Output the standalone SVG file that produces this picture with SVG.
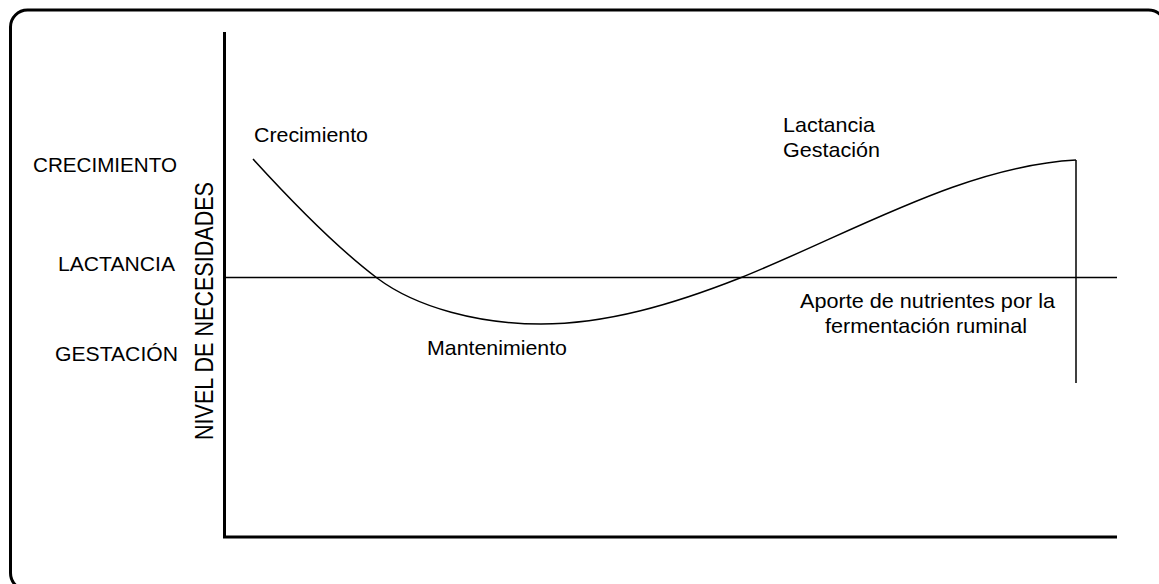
<svg xmlns="http://www.w3.org/2000/svg" width="1159" height="584" viewBox="0 0 1159 584">
<style>
.t{font-family:"Liberation Sans",Arial,sans-serif;font-size:21px;fill:#000}
.thin{fill:none;stroke:#000;stroke-width:1.5}
.thick{fill:none;stroke:#000;stroke-width:3}
</style>
<rect width="1159" height="584" fill="#fff"/>
<g id="frame"><rect class="thick" x="10.5" y="10" width="1155" height="580" rx="17"/></g>
<g id="axes">
<path class="thick" d="M224.5 32 V537 H1117"/>
</g>
<g id="connectors">
<line class="thin" x1="224" y1="277.5" x2="1117" y2="277.5"/>
<line class="thin" x1="1076" y1="160" x2="1076" y2="383"/>
<path class="thin" d="M253 159 C294 204 336 247 377 278 C417 308 480 324 541 324 C607 324 674 304 740 278 C852 233 964 166 1076 160"/>
</g>
<g id="y-labels">
<text class="t" x="33" y="172" textLength="144" lengthAdjust="spacingAndGlyphs">CRECIMIENTO</text>
<text class="t" x="58" y="271" textLength="117" lengthAdjust="spacingAndGlyphs">LACTANCIA</text>
<text class="t" x="55" y="361" textLength="123" lengthAdjust="spacingAndGlyphs">GESTACIÓN</text>
</g>
<g id="axis-title">
<text class="t" transform="translate(213 440) rotate(-90)" style="font-size:25px" textLength="258" lengthAdjust="spacingAndGlyphs">NIVEL DE NECESIDADES</text>
</g>
<g id="curve-labels">
<text class="t" x="254" y="142" textLength="114" lengthAdjust="spacingAndGlyphs">Crecimiento</text>
<text class="t" x="427" y="355" textLength="140" lengthAdjust="spacingAndGlyphs">Mantenimiento</text>
<text class="t" x="783" y="132" textLength="92" lengthAdjust="spacingAndGlyphs">Lactancia</text>
<text class="t" x="783" y="157" textLength="97" lengthAdjust="spacingAndGlyphs">Gestación</text>
<text class="t" x="800" y="308" textLength="255" lengthAdjust="spacingAndGlyphs">Aporte de nutrientes por la</text>
<text class="t" x="825" y="333" textLength="202" lengthAdjust="spacingAndGlyphs">fermentación ruminal</text>
</g>
</svg>
